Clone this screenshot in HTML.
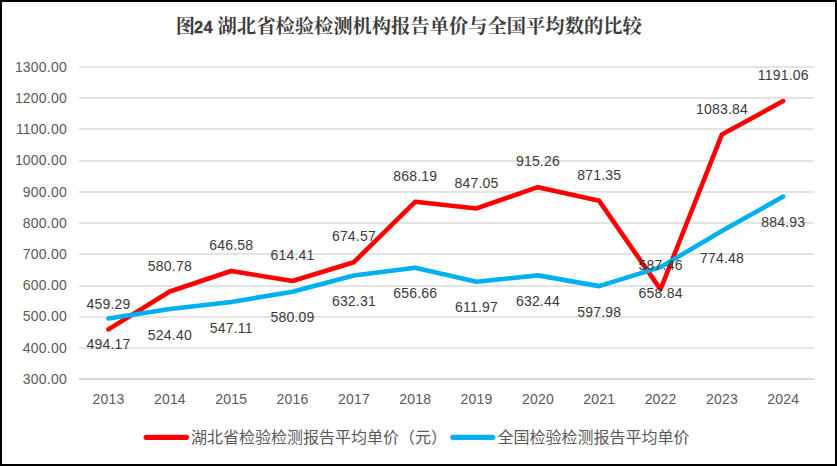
<!DOCTYPE html>
<html lang="zh"><head><meta charset="utf-8"><title>图24 湖北省检验检测机构报告单价与全国平均数的比较</title>
<style>
html,body{margin:0;padding:0;background:#fff;}
body{width:837px;height:466px;overflow:hidden;font-family:"Liberation Sans",sans-serif;}
#chart{position:absolute;left:0;top:0;width:837px;height:466px;box-sizing:border-box;border:2px solid #000;background:#fff;}
svg{position:absolute;left:0;top:0;display:block;}
text{font-family:"Liberation Sans",sans-serif;}
.ax{font-size:14px;fill:#595959;letter-spacing:0.2px;}
.dl{font-size:14px;fill:#3a3a3a;letter-spacing:0.2px;}
.tn{font-size:16.4px;fill:#3c3c3c;font-weight:bold;letter-spacing:0.5px;stroke:#3c3c3c;stroke-width:0.3px;}
.tt{font-family:"Liberation Serif","Noto Serif CJK SC",serif;font-size:19.3px;font-weight:bold;fill:#3c3c3c;}
.lg{font-family:"Liberation Sans","Noto Sans CJK SC",sans-serif;font-size:16px;fill:#595959;}
</style></head><body>
<div id="chart"></div>
<svg width="837" height="466" viewBox="0 0 837 466" role="img" aria-label="图24 湖北省检验检测机构报告单价与全国平均数的比较">
<g fill="#e4e4e4" shape-rendering="crispEdges">
<rect x="79" y="347" width="735" height="2"/>
<rect x="79" y="316" width="735" height="2"/>
<rect x="79" y="285" width="735" height="2"/>
<rect x="79" y="253" width="735" height="2"/>
<rect x="79" y="222" width="735" height="2"/>
<rect x="79" y="191" width="735" height="2"/>
<rect x="79" y="160" width="735" height="2"/>
<rect x="79" y="128" width="735" height="2"/>
<rect x="79" y="97" width="735" height="2"/>
<rect x="79" y="66" width="735" height="2"/>
</g>
<rect x="79" y="378" width="735" height="2" fill="#d6d6d6" shape-rendering="crispEdges"/>
<g class="ax" text-anchor="end">
<text x="66.9" y="383.70">300.00</text>
<text x="66.9" y="352.50">400.00</text>
<text x="66.9" y="321.30">500.00</text>
<text x="66.9" y="290.10">600.00</text>
<text x="66.9" y="258.90">700.00</text>
<text x="66.9" y="227.70">800.00</text>
<text x="66.9" y="196.50">900.00</text>
<text x="66.9" y="165.30">1000.00</text>
<text x="66.9" y="134.10">1100.00</text>
<text x="66.9" y="102.90">1200.00</text>
<text x="66.9" y="71.70">1300.00</text>
</g>
<g class="ax" text-anchor="middle">
<text x="108.55" y="403.8">2013</text>
<text x="169.89" y="403.8">2014</text>
<text x="231.23" y="403.8">2015</text>
<text x="292.57" y="403.8">2016</text>
<text x="353.91" y="403.8">2017</text>
<text x="415.25" y="403.8">2018</text>
<text x="476.59" y="403.8">2019</text>
<text x="537.93" y="403.8">2020</text>
<text x="599.27" y="403.8">2021</text>
<text x="660.61" y="403.8">2022</text>
<text x="721.95" y="403.8">2023</text>
<text x="783.29" y="403.8">2024</text>
</g>
<polyline points="108.45,329.40 169.79,291.50 231.13,270.97 292.47,281.00 353.81,262.23 415.15,201.82 476.49,208.42 537.83,187.14 599.17,200.84 660.51,289.41 721.85,134.54 783.19,101.09" fill="none" stroke="#ff0000" stroke-width="4.6" stroke-linecap="round" stroke-linejoin="round"/>
<polyline points="108.45,318.52 169.79,309.09 231.13,302.00 292.47,291.71 353.81,275.42 415.15,267.82 476.49,281.77 537.83,275.38 599.17,286.13 660.51,267.14 721.85,231.06 783.19,196.60" fill="none" stroke="#00b0f0" stroke-width="4.6" stroke-linecap="round" stroke-linejoin="round"/>
<g class="dl" text-anchor="middle">
<text x="108.55" y="309.40">459.29</text>
<text x="169.89" y="270.60">580.78</text>
<text x="231.23" y="250.07">646.58</text>
<text x="292.57" y="260.10">614.41</text>
<text x="353.91" y="241.33">674.57</text>
<text x="415.25" y="180.92">868.19</text>
<text x="476.59" y="188.12">847.05</text>
<text x="537.93" y="166.24">915.26</text>
<text x="599.27" y="179.94">871.35</text>
<text x="660.61" y="269.71">587.46</text>
<text x="721.95" y="113.64">1083.84</text>
<text x="783.29" y="80.19">1191.06</text>
<text x="108.55" y="349.02">494.17</text>
<text x="169.89" y="340.29">524.40</text>
<text x="231.23" y="333.30">547.11</text>
<text x="292.57" y="322.21">580.09</text>
<text x="353.91" y="305.92">632.31</text>
<text x="415.25" y="298.32">656.66</text>
<text x="476.59" y="312.27">611.97</text>
<text x="537.93" y="305.88">632.44</text>
<text x="599.27" y="316.63">597.98</text>
<text x="660.61" y="297.64">658.84</text>
<text x="721.95" y="262.56">774.48</text>
<text x="783.29" y="227.10">884.93</text>
</g>
<text class="tt" x="175.8" y="33.2">图</text>
<text class="tn" x="193.90" y="32.6">24</text>
<text class="tt" x="217.6" y="33.2">湖北省检验检测机构报告单价与全国平均数的比较</text>
<line x1="146.2" y1="437.3" x2="186.5" y2="437.3" stroke="#ff0000" stroke-width="5.2" stroke-linecap="round"/>
<text class="lg" x="191" y="442.6">湖北省检验检测报告平均单价（元）</text>
<line x1="452.8" y1="437.3" x2="492.8" y2="437.3" stroke="#00b0f0" stroke-width="5.2" stroke-linecap="round"/>
<text class="lg" x="497.6" y="442.6">全国检验检测报告平均单价</text>
</svg>
</body></html>
